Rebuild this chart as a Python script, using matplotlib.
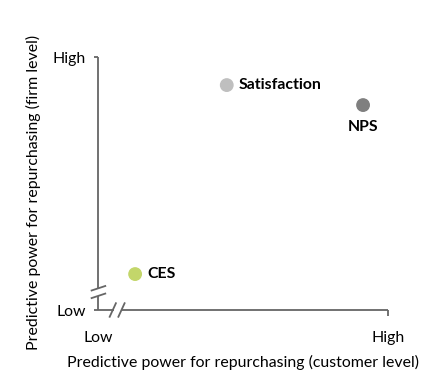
import matplotlib.pyplot as plt

# data (arbitrary 0-10 scale, Low=0, High=10)
labels = ['Satisfaction', 'NPS', 'CES']
x_vals = [4.44, 9.14, 1.28]
y_vals = [8.89, 8.10, 1.42]
colors = ['#BFBFBF', '#7F7F7F', '#C3D66A']
tick_labels = ['Low', 'High']

plt.rcParams['font.family'] = ['Lato', 'DejaVu Sans']
axcol = '#666666'
fs = 11.4

fig = plt.figure(figsize=(4.38, 3.86), dpi=100)
ax = fig.add_axes([98/438, 76/386, 290/438, 253/386])
ax.set_xlim(0, 10)
ax.set_ylim(0, 10)
for s in ax.spines.values():
    s.set_visible(False)

ax.scatter(x_vals, y_vals, s=80, c=colors, zorder=3, clip_on=False)

# point labels
ax.annotate(labels[0], (x_vals[0], y_vals[0]), xytext=(8.5, 0), textcoords='offset points',
            ha='left', va='center', fontsize=fs, fontweight='bold')
ax.annotate(labels[1], (x_vals[1], y_vals[1]), xytext=(0, -16), textcoords='offset points',
            ha='center', va='center', fontsize=fs, fontweight='bold')
ax.annotate(labels[2], (x_vals[2], y_vals[2]), xytext=(9, 0), textcoords='offset points',
            ha='left', va='center', fontsize=fs, fontweight='bold')

# axis lines with breaks
yb = 0.71  # break on y axis
xb = 0.66  # break on x axis
kw = dict(color=axcol, lw=1.3, clip_on=False, solid_capstyle='butt')
ax.plot([0, 0], [10, yb + 0.15], **kw)
ax.plot([0, 0], [yb - 0.15, 0], **kw)
ax.plot([-0.15, xb - 0.12], [0, 0], **kw)
ax.plot([xb + 0.12, 10], [0, 0], **kw)
ax.plot([-0.15, 0], [10, 10], **kw)
ax.plot([10, 10], [0, -0.22], **kw)
# break slashes
for d in (-0.15, 0.15):
    ax.plot([-0.25, 0.28], [yb + d - 0.1, yb + d + 0.1], **kw)
    ax.plot([xb + d - 0.12, xb + d + 0.12], [-0.3, 0.3], **kw)

ax.set_xticks([0, 10])
ax.set_xticklabels(tick_labels, fontsize=fs)
ax.set_yticks([0, 10])
ax.set_yticklabels(tick_labels, fontsize=fs)
ax.tick_params(axis='x', length=0, pad=15)
ax.tick_params(axis='y', length=0, pad=9)

ax.set_xlabel('Predictive power for repurchasing (customer level)', fontsize=fs, labelpad=7)
ax.set_ylabel('Predictive power for repurchasing (firm level)', fontsize=fs)
ax.yaxis.set_label_coords(-57/290, 0.466)

fig.savefig('out.png', dpi=100)
